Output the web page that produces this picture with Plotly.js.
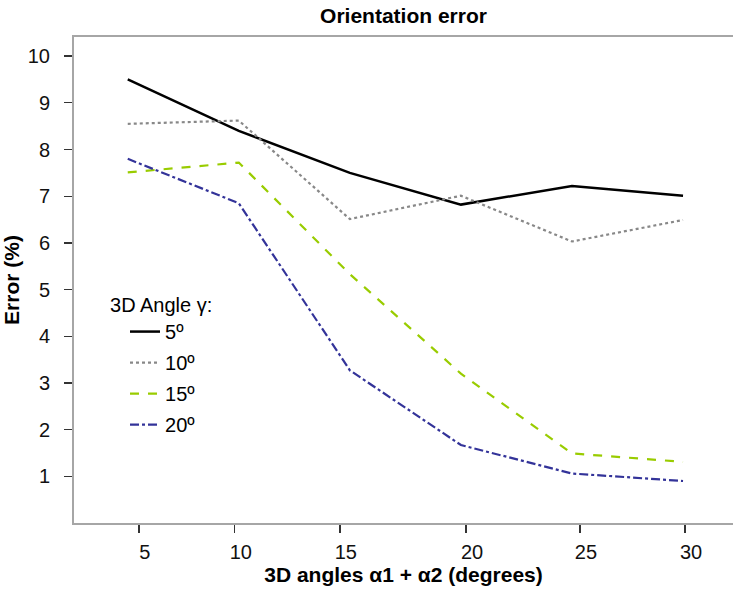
<!DOCTYPE html>
<html>
<head>
<meta charset="utf-8">
<script src="https://cdn.plot.ly/plotly-3.0.1.min.js"></script>
<style>html,body{margin:0;padding:0;background:#fff;overflow:hidden}#chart{width:733px;height:596px}</style>
</head>
<body>
<div id="chart"></div>
<script>
// Data positions (degrees, α1 + α2)
const angles = [5, 10, 15, 20, 25, 30];
// Error (%) for each 3D angle γ
const err5 = [9.50, 8.40, 7.50, 6.82, 7.22, 7.01];
const err10 = [8.55, 8.62, 6.51, 7.01, 6.03, 6.49];
const err15 = [7.51, 7.72, 5.33, 3.20, 1.49, 1.31];
const err20 = [7.80, 6.85, 3.27, 1.67, 1.06, 0.90];
const seriesNames = ['5º', '10º', '15º', '20º'];
// Tick marks as placed on the reference axis
const xTickVals = [5.5, 9.82, 14.55, 20.23, 25.36, 30.09];
const xTickText = ['5', '10', '15', '20', '25', '30'];
const yTickVals = [1, 2, 3, 4, 5, 6, 7, 8, 9, 10];

const font = 'Liberation Sans, Arial, sans-serif';
const styles = [
  {color: '#000000', width: 2.5, dash: 'solid'},
  {color: '#888888', width: 2.2, dash: 'dot'},
  {color: '#99cc00', width: 2.2, dash: 'dash'},
  {color: '#333399', width: 2.2, dash: 'dashdot'}
];
const ys = [err5, err10, err15, err20];
const traces = ys.map((y, i) => ({
  x: angles, y: y, type: 'scatter', mode: 'lines', name: seriesNames[i],
  legendgroup: 'g' + i,
  line: {color: styles[i].color, width: styles[i].width, dash: styles[i].dash, shape: 'linear'}
}));

const layout = {
  width: 733, height: 596,
  margin: {l: 74, r: 0, t: 37, b: 73, pad: 0},
  paper_bgcolor: '#ffffff', plot_bgcolor: '#ffffff',
  showlegend: true,
  title: {text: '<b>Orientation error</b>', font: {family: font, size: 21, color: '#000'},
          x: 0.5, xref: 'paper', xanchor: 'center', y: 0.973, yref: 'container', yanchor: 'middle'},
  xaxis: {
    range: [2.58, 32.25], showgrid: false, zeroline: false,
    showline: true, linecolor: '#a6a6a6', linewidth: 2, mirror: true,
    ticks: 'outside', ticklen: 8, tickwidth: 1.3, tickcolor: '#333',
    tickmode: 'array', tickvals: xTickVals, ticktext: xTickText,
    ticklabelshift: 6, ticklabelstandoff: 2,
    tickfont: {family: font, size: 20, color: '#111'},
    automargin: false,
    title: {text: '<b>3D angles α1 + α2 (degrees)</b>', font: {family: font, size: 21, color: '#000'}, standoff: 3}
  },
  yaxis: {
    range: [0, 10.41], showgrid: false, zeroline: false,
    showline: true, linecolor: '#a6a6a6', linewidth: 2, mirror: false,
    ticks: 'outside', ticklen: 8, tickwidth: 1.3, tickcolor: '#333',
    tickmode: 'array', tickvals: yTickVals,
    ticklabelstandoff: 10,
    tickfont: {family: font, size: 20, color: '#111'},
    automargin: false,
    title: {text: '<b>Error (%)</b>', font: {family: font, size: 21, color: '#000'}, standoff: 2}
  },
  legend: {
    x: 0.0516, y: 0.4875, xanchor: 'left', yanchor: 'top',
    bgcolor: 'rgba(0,0,0,0)', borderwidth: 0,
    traceorder: 'grouped', tracegroupgap: 2, indentation: 17,
    title: {text: '3D Angle γ:', font: {family: font, size: 20, color: '#000'}},
    font: {family: font, size: 20, color: '#000'}
  }
};

Plotly.newPlot('chart', traces, layout, {displayModeBar: false, staticPlot: true});
</script>
</body>
</html>
